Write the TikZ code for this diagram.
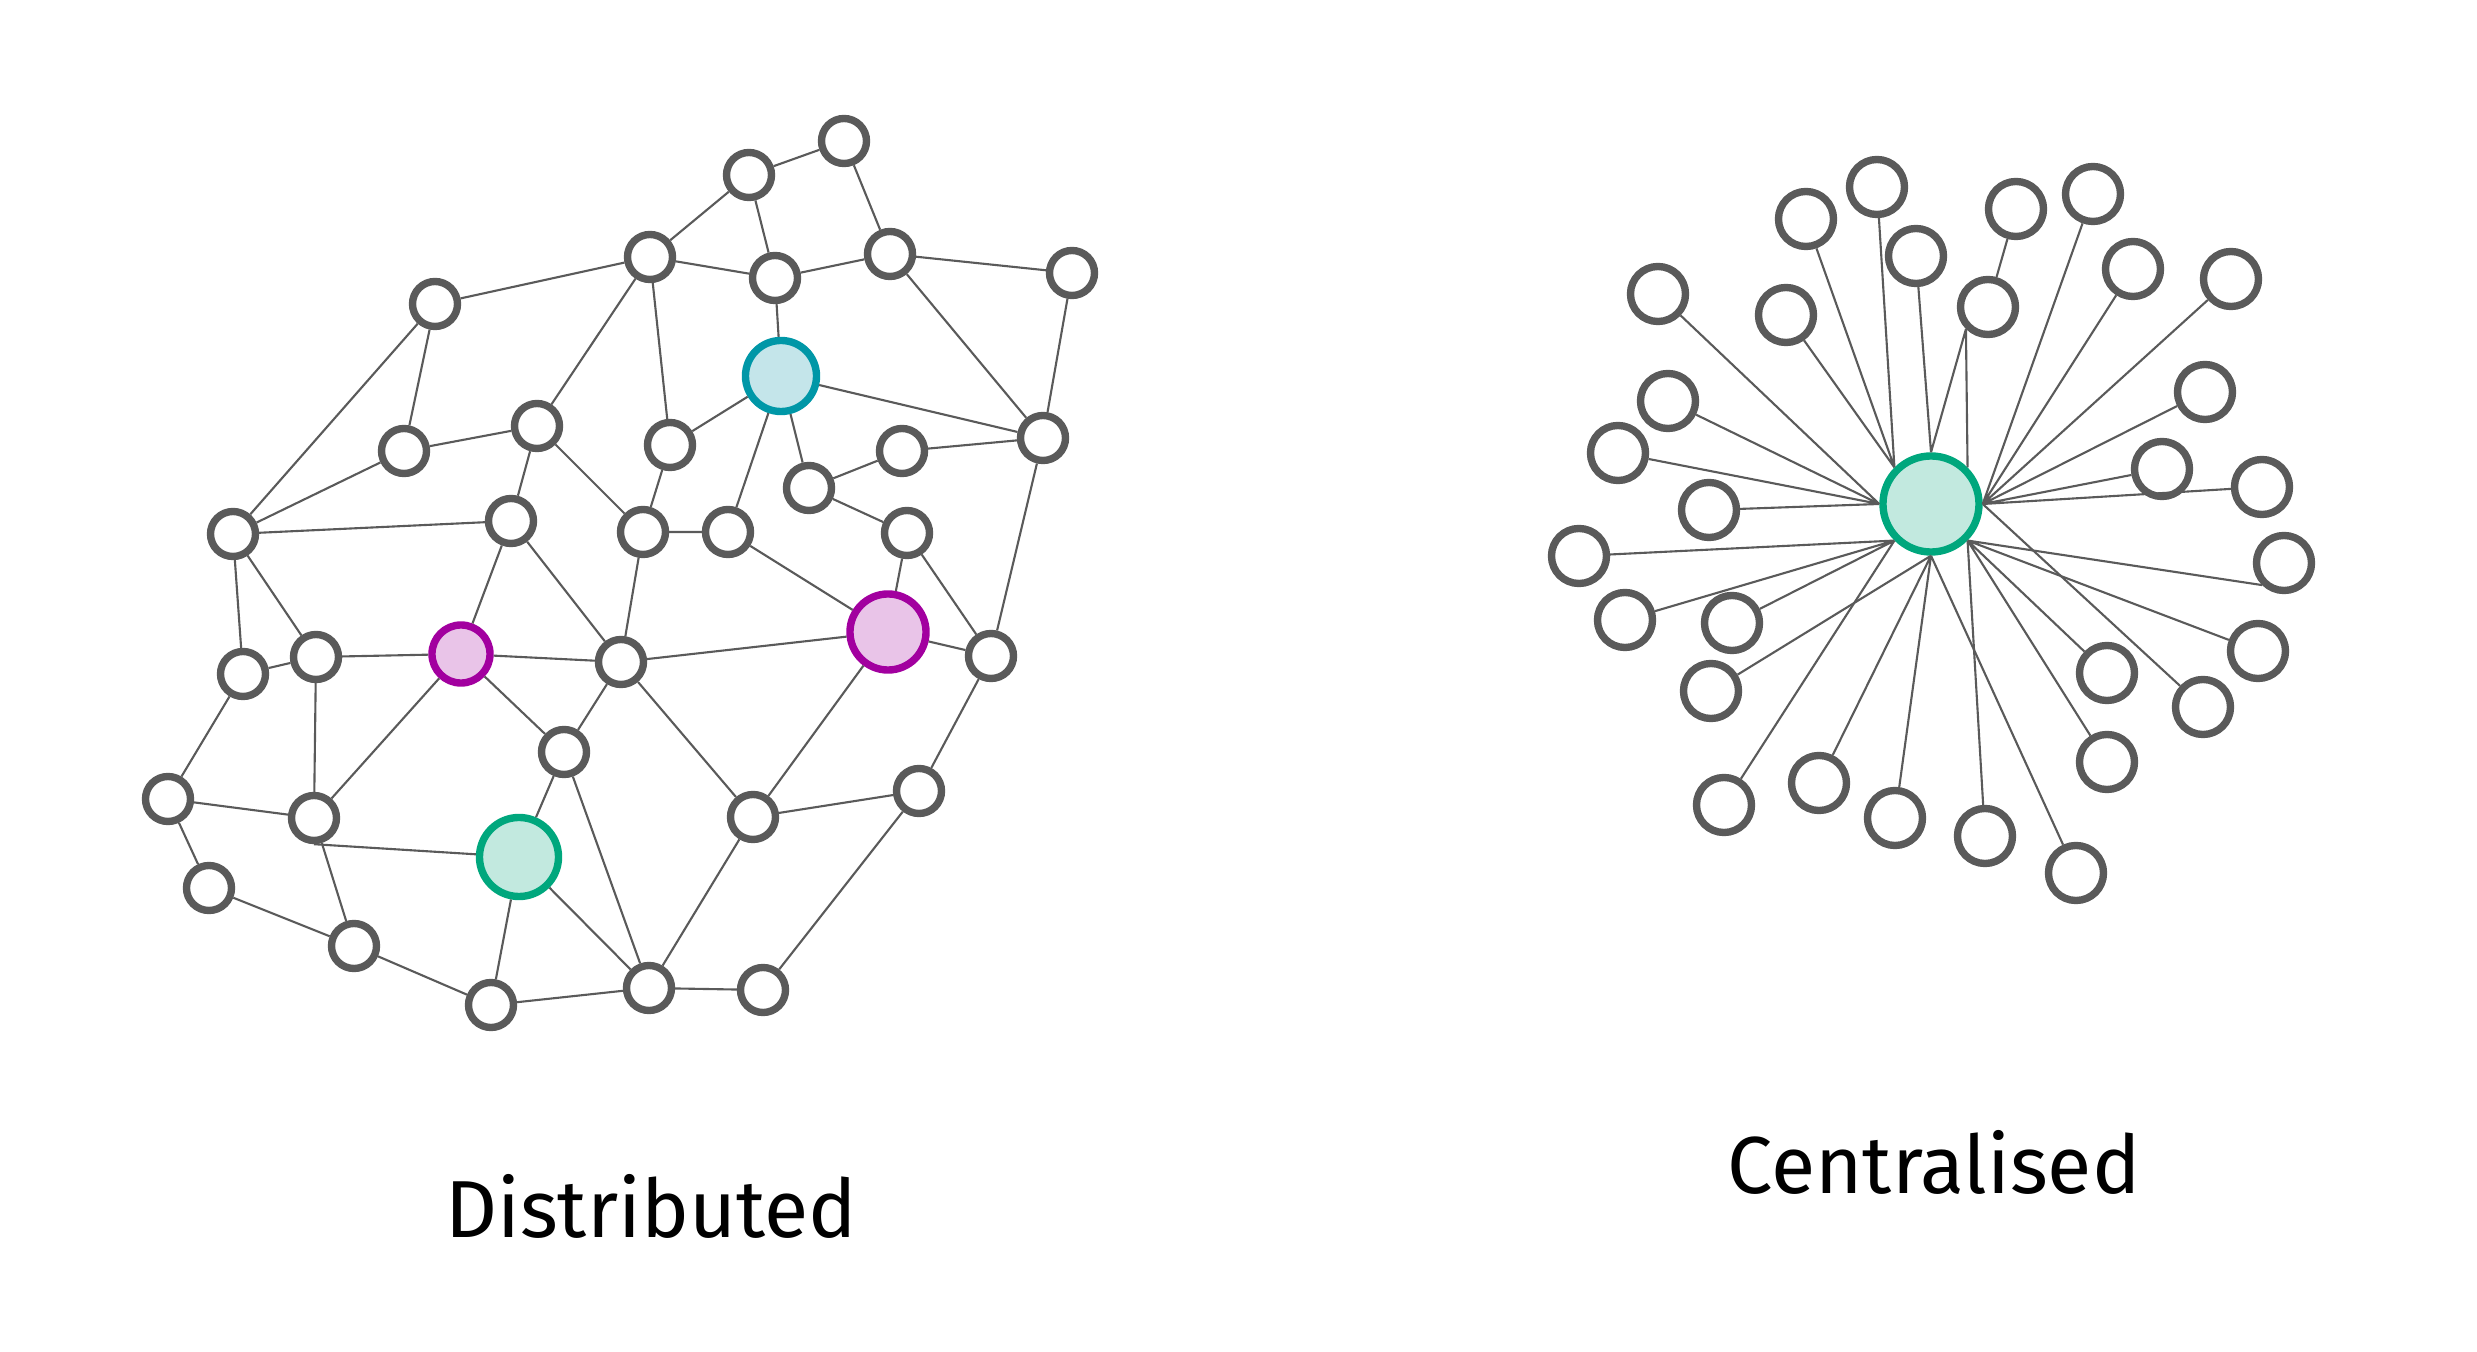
\documentclass[tikz,border=0pt]{standalone}
\usepackage{fontspec}
\setmainfont{Fira Sans}
\definecolor{netGrey}{HTML}{5A5A5A}
\definecolor{netCyan}{HTML}{0097A7}
\definecolor{netCyanLight}{HTML}{C4E5EA}
\definecolor{netMagenta}{HTML}{A2009F}
\definecolor{netMagentaLight}{HTML}{E9C4E8}
\definecolor{netGreen}{HTML}{00A77D}
\definecolor{netGreenLight}{HTML}{C2E9DF}
\usepackage{tikz}
\usetikzlibrary{positioning, backgrounds}

\begin{document}
\begin{tikzpicture}[x=0.01cm, y=-0.01cm,
    peer/.style={circle, draw=netGrey, line width=2.1pt, fill=white, inner sep=0pt, minimum size=0.45cm},
    leaf/.style={peer, minimum size=0.55cm},
    cyanpeer/.style={peer, draw=netCyan, fill=netCyanLight, minimum size=0.71cm},
    magpeer/.style={peer, draw=netMagenta, fill=netMagentaLight},
    greenpeer/.style={peer, draw=netGreen, fill=netGreenLight},
    link/.style={draw=netGrey, line width=0.6pt},
    caption/.style={anchor=base, font=\fontsize{23}{28}\selectfont}]
    \useasboundingbox (0,0) rectangle (2477,1352);

    % Distributed network: peers
    \node[peer] (dA) at (435,304) {};
    \node[peer] (dB) at (650,257) {};
    \node[peer] (dC) at (404,451) {};
    \node[peer] (dD) at (537,426) {};
    \node[peer] (dE) at (233,534) {};
    \node[peer] (dF) at (511,521) {};
    \node[peer] (dG) at (670,445) {};
    \node[peer] (dH) at (643,532) {};
    \node[peer] (dI) at (844,141) {};
    \node[peer] (dJ) at (749,175) {};
    \node[peer] (dK) at (775,278) {};
    \node[peer] (dL) at (890,254) {};
    \node[peer] (dM) at (1072,273) {};
    \node[peer] (dO) at (902,451) {};
    \node[peer] (dP) at (1043,438) {};
    \node[peer] (dQ) at (809,488) {};
    \node[peer] (dR) at (728,532) {};
    \node[peer] (dS) at (907,533) {};
    \node[peer] (dT) at (243,674) {};
    \node[peer] (dU) at (316,657) {};
    \node[peer] (dW) at (621,662) {};
    \node[peer] (dX) at (564,752) {};
    \node[peer] (dY) at (168,799) {};
    \node[peer] (dZ) at (314,818) {};
    \node[peer] (dAA) at (209,888) {};
    \node[peer] (dAB) at (354,946) {};
    \node[peer] (dAC) at (491,1005) {};
    \node[peer] (dAD) at (649,988) {};
    \node[peer] (dAE) at (991,656) {};
    \node[peer] (dAF) at (753,817) {};
    \node[peer] (dAG) at (919,791) {};
    \node[peer] (dAH) at (763,990) {};

    % Distributed network: coloured peers
    \node[cyanpeer] (dCyan) at (781,376) {};
    \node[magpeer, minimum size=0.58cm] (dMagSmall) at (461,654) {};
    \node[magpeer, minimum size=0.76cm] (dMagBig) at (888,632) {};
    \node[greenpeer, minimum size=0.79cm] (dGreen) at (519,857) {};

    % Distributed network: links
    \draw[link] (dA) -- (dB) (dA) -- (dE) (dA) -- (dC) (dC) -- (dE) (dC) -- (dD)
        (dD) -- (dB) (dB) -- (dG) (dD) -- (dF) (dD) -- (dH) (dE) -- (dF)
        (dG) -- (dH) (dF) -- (dMagSmall) (dF) -- (dW) (dH) -- (dW) (dH) -- (dR)
        (dE) -- (dT) (dE) -- (dU);
    \draw[link] (dJ) -- (dI) (dJ) -- (dB) (dJ) -- (dK) (dI) -- (dL) (dK) -- (dL)
        (dB) -- (dK) (dK) -- (dCyan) (dL) -- (dM) (dL) -- (dP) (dM) -- (dP)
        (dCyan) -- (dP) (dCyan) -- (dG) (dCyan) -- (dR) (dCyan) -- (dQ)
        (dQ) -- (dO) (dO) -- (dP) (dQ) -- (dS) (dR) -- (dMagBig)
        (dS) -- (dMagBig) (dS) -- (dAE) (dP) -- (dAE);
    \draw[link] (dT) -- (dU) (dU) -- (dMagSmall) (dT) -- (dY) (dU) -- (dZ)
        (dMagSmall) -- (dW) (dMagSmall) -- (dX) (dMagSmall) -- (dZ) (dW) -- (dX)
        (dW) -- (dAF) (dW) -- (dMagBig) (dY) -- (dZ) (dY) -- (dAA)
        (dX) -- (dGreen) (dX) -- (dAD) (dZ.south) -- (dGreen) (dZ) -- (dAB)
        (dAA) -- (dAB) (dAB) -- (dAC) (dGreen) -- (dAC) (dGreen) -- (dAD)
        (dAC) -- (dAD) (dAD) -- (dAF) (dAD) -- (dAH);
    \draw[link] (dAF) -- (dMagBig) (dAF) -- (dAG) (dAE) -- (dAG) (dMagBig) -- (dAE)
        (dAG) -- (dAH);

    % Centralised network
    \node[greenpeer, minimum size=0.96cm] (hub) at (1931,504) {};
    \node[leaf] (c1) at (1877,187) {};
    \node[leaf] (c2) at (1806,219) {};
    \node[leaf] (c3) at (1916,256) {};
    \node[leaf] (c4) at (1658,294) {};
    \node[leaf] (c5) at (1786,315) {};
    \node[leaf] (c6) at (1988,307) {};
    \node[leaf] (c7) at (2016,209) {};
    \node[leaf] (c8) at (2093,194) {};
    \node[leaf] (c9) at (2133,269) {};
    \node[leaf] (c10) at (2231,279) {};
    \node[leaf] (c11) at (2205,392) {};
    \node[leaf] (c12) at (2162,469) {};
    \node[leaf] (c13) at (2262,487) {};
    \node[leaf] (c14) at (2284,563) {};
    \node[leaf] (c15) at (2258,651) {};
    \node[leaf] (c16) at (2107,673) {};
    \node[leaf] (c17) at (2203,707) {};
    \node[leaf] (c18) at (2107,762) {};
    \node[leaf] (c19) at (2076,873) {};
    \node[leaf] (c20) at (1985,836) {};
    \node[leaf] (c21) at (1895,818) {};
    \node[leaf] (c22) at (1819,783) {};
    \node[leaf] (c23) at (1724,805) {};
    \node[leaf] (c24) at (1711,691) {};
    \node[leaf] (c25) at (1732,623) {};
    \node[leaf] (c26) at (1625,620) {};
    \node[leaf] (c27) at (1579,556) {};
    \node[leaf] (c28) at (1709,510) {};
    \node[leaf] (c29) at (1618,453) {};
    \node[leaf] (c30) at (1668,401) {};

    % Spokes
    \draw[link] (hub.north west) -- (c1) (hub.north west) -- (c2) (hub.north west) -- (c5)
        (hub.north) -- (c3) (c6.south west) -- (hub.north) (c6.south west) -- (hub.north east)
        (c6) -- (c7);
    \draw[link] (hub.west) -- (c4) (hub.west) -- (c30) (hub.west) -- (c29) (hub.west) -- (c28);
    \draw[link] (hub.south west) -- (c27) (hub.south west) -- (c26) (hub.south west) -- (c25)
        (hub.south west) -- (c23);
    \draw[link] (hub.south) -- (c24) (hub.south) -- (c22) (hub.south) -- (c21) (hub.south) -- (c19);
    \draw[link] (hub.south east) -- (c20) (hub.south east) -- (c18) (hub.south east) -- (c16)
        (hub.south east) -- (c15) (hub.south east) -- (c14.south west);
    \draw[link] (hub.east) -- (c8) (hub.east) -- (c9) (hub.east) -- (c10) (hub.east) -- (c11)
        (hub.east) -- (c12) (hub.east) -- (c13) (hub.east) -- (c17);

    % Captions
    \node[caption] (lblDist) at (651,1238) {Distributed};
    \node[caption] (lblCent) at (1934,1194) {Centralised};
\end{tikzpicture}
\end{document}
